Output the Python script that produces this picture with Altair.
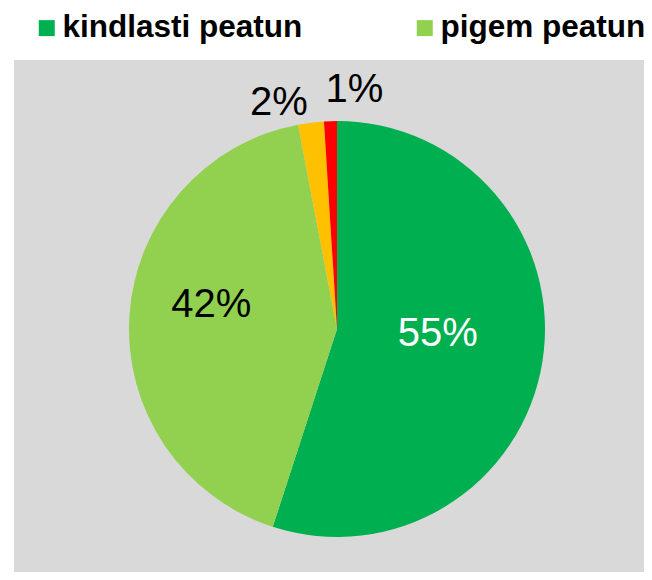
import altair as alt
import pandas as pd

categories = ["kindlasti peatun", "pigem peatun", "pigem ei peatu", "kindlasti ei peatu"]
values = [55, 42, 2, 1]
labels = ["55%", "42%", "2%", "1%"]
order = [1, 2, 3, 4]
colors = ["#00B050", "#92D050", "#FFC000", "#FF0000"]

df = pd.DataFrame({"cat": categories, "val": values, "lab": labels, "ord": order})

W, H = 630, 512
CX, CY = 323, 269
R = 208

color_scale = alt.Scale(domain=categories, range=colors)

bg = alt.Chart(pd.DataFrame({"k": [0]})).mark_rect(color="#D9D9D9").encode(
    x=alt.value(0), x2=alt.value(W), y=alt.value(0), y2=alt.value(H)
)

base = alt.Chart(df).encode(
    theta=alt.Theta("val:Q", stack=True),
    order=alt.Order("ord:Q"),
)

pie = base.mark_arc(outerRadius=R, x=CX, y=CY).encode(
    color=alt.Color(
        "cat:N",
        scale=color_scale,
        legend=alt.Legend(
            values=categories[:2],
            orient="none",
            legendX=17,
            legendY=-48,
            direction="horizontal",
            title=None,
            symbolType="square",
            symbolSize=256,
            symbolStrokeWidth=0,
            labelFont="Liberation Sans",
            labelFontSize=31.5,
            labelFontWeight="bold",
            labelColor="#000000",
            labelOffset=0,
            columnPadding=106,
            padding=0,
            labelLimit=400,
        ),
    )
)

def lab_layer(cat, radius, dx, dy, color):
    return base.mark_text(
        x=CX, y=CY, radius=radius, dx=dx, dy=dy,
        font="Liberation Sans", fontSize=40, color=color,
        align="center", baseline="middle",
    ).encode(
        text="lab:N",
        opacity=alt.condition(f"datum.cat == '{cat}'", alt.value(1), alt.value(0)),
    )

layers = [
    lab_layer(categories[0], 102, 0, -11, "#FFFFFF"),
    lab_layer(categories[1], 126, 0, -16, "#000000"),
    lab_layer(categories[2], 232, -29, 4, "#000000"),
    lab_layer(categories[3], 243, 25, 4, "#000000"),
]

chart = alt.layer(bg, pie, *layers).properties(
    width=W,
    height=H,
    autosize=alt.AutoSizeParams(type="none"),
    padding={"left": 6, "top": 52, "right": 0, "bottom": 0},
    background="#FFFFFF",
).configure_view(stroke=None)

chart.save("out.html", embed_options={"renderer": "svg", "actions": False})
